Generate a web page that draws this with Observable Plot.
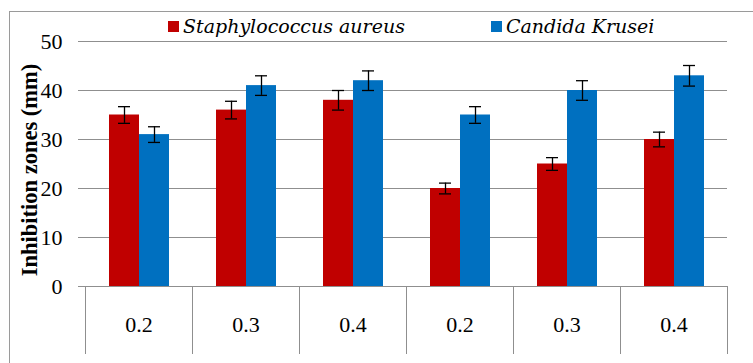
<!DOCTYPE html>
<html><head><meta charset="utf-8">
<script src="https://cdn.jsdelivr.net/npm/d3@7"></script>
<script src="https://cdn.jsdelivr.net/npm/@observablehq/plot@0.6"></script>
<style>
html,body{margin:0;padding:0;background:#fff;}
#wrap{position:relative;width:753px;height:363px;overflow:hidden;}
#chart{position:absolute;left:0;top:0;}
#border{position:absolute;left:9px;top:11px;width:780px;height:400px;border-left:1px solid #9a9a9a;border-top:1px solid #9a9a9a;pointer-events:none;}
#legend{position:absolute;left:168px;top:15px;}
#legend .lg-swatches{margin:0 !important;min-height:0 !important;}
#legend .lg-swatch{margin-right:86px !important;display:inline-flex;align-items:center;font-family:'DejaVu Serif',serif !important;font-style:italic !important;font-size:19px !important;color:#000 !important;}
#legend .lg-swatch svg{margin-right:4px !important;}
</style></head><body>
<div id="wrap"><div id="chart"></div><div id="legend"></div><div id="border"></div></div>
<script>
const groups = ["0.2","0.3","0.4","0.2","0.3","0.4"];
const seriesNames = ["Staphylococcus aureus","Candida Krusei"];
const staph = [35,36,38,20,25,30];
const staphErr = [1.7,1.8,2.0,1.1,1.3,1.5];
const candida = [31,41,42,35,40,43];
const candidaErr = [1.6,2.0,2.0,1.7,2.0,2.1];
const colors = ["#C00000","#0070C0"];
const yTicks = [0,10,20,30,40,50];

const rows = [];
groups.forEach((g, i) => {
  rows.push({g: i, s: seriesNames[0], v: staph[i], e: staphErr[i]});
  rows.push({g: i, s: seriesNames[1], v: candida[i], e: candidaErr[i]});
});

const W = 753, H = 363, mL = 84, mR = 25, mT = 41, mB = 77;
const frameH = H - mT - mB;
const grid = "#8f8f8f";
const serif = "'Liberation Serif', serif";

const plot = Plot.plot({
  width: W, height: H,
  marginLeft: mL, marginRight: mR, marginTop: mT, marginBottom: mB,
  style: {background: "transparent", fontFamily: serif, fontSize: "22px"},
  fx: {domain: d3.range(groups.length), padding: 0, axis: null},
  x: {domain: seriesNames, paddingInner: 0, paddingOuter: 0.75, axis: null},
  y: {domain: [0, 50], axis: null},
  color: {domain: seriesNames, range: colors},
  marks: [
    Plot.gridY(yTicks, {stroke: grid, strokeOpacity: 1}),
    Plot.frame({anchor: "left", stroke: grid, insetTop: frameH, insetBottom: -67}),
    Plot.frame({anchor: "right", stroke: grid, insetTop: frameH, insetBottom: -67}),
    Plot.barY(rows, {fx: "g", x: "s", y: "v", fill: "s", style: "filter: drop-shadow(2px 1px 1.5px rgba(0,0,0,0.35))"}),
    Plot.ruleX(rows, {fx: "g", x: "s", y1: d => d.v - d.e, y2: d => d.v + d.e, stroke: "#000", strokeWidth: 1.3}),
    Plot.tickY(rows, {fx: "g", x: "s", y: d => d.v + d.e, stroke: "#000", strokeWidth: 1.3, insetLeft: 9, insetRight: 9}),
    Plot.tickY(rows, {fx: "g", x: "s", y: d => d.v - d.e, stroke: "#000", strokeWidth: 1.3, insetLeft: 9, insetRight: 9}),
    Plot.ruleY([0], {stroke: grid}),
    Plot.axisY(yTicks, {anchor: "left", tickSize: 7, tickPadding: 16, stroke: grid, line: true,
      label: "Inhibition zones (mm)", labelAnchor: "center", labelOffset: 64, labelArrow: "none", fill: "#000",
      fontFamily: serif, fontSize: 22, fontVariant: "normal"}),
    Plot.axisFx({anchor: "bottom", tickSize: 0, tickPadding: 30, tickFormat: i => groups[i], label: null, fill: "#000",
      fontFamily: serif, fontSize: 22, fontVariant: "normal"})
  ]
});
document.getElementById("chart").append(plot);
d3.select(plot).selectAll("g[aria-label='y-axis label'] text")
  .style("font-weight", "bold").style("font-size", "22.5px").attr("dx", -6);

const leg = Plot.legend({color: {domain: seriesNames, range: colors}, legend: "swatches", swatchSize: 11, className: "lg",
  style: {fontFamily: "'DejaVu Serif', serif", fontStyle: "italic", fontSize: "19px", color: "#000"}});
document.getElementById("legend").append(leg);
</script>
</body></html>
